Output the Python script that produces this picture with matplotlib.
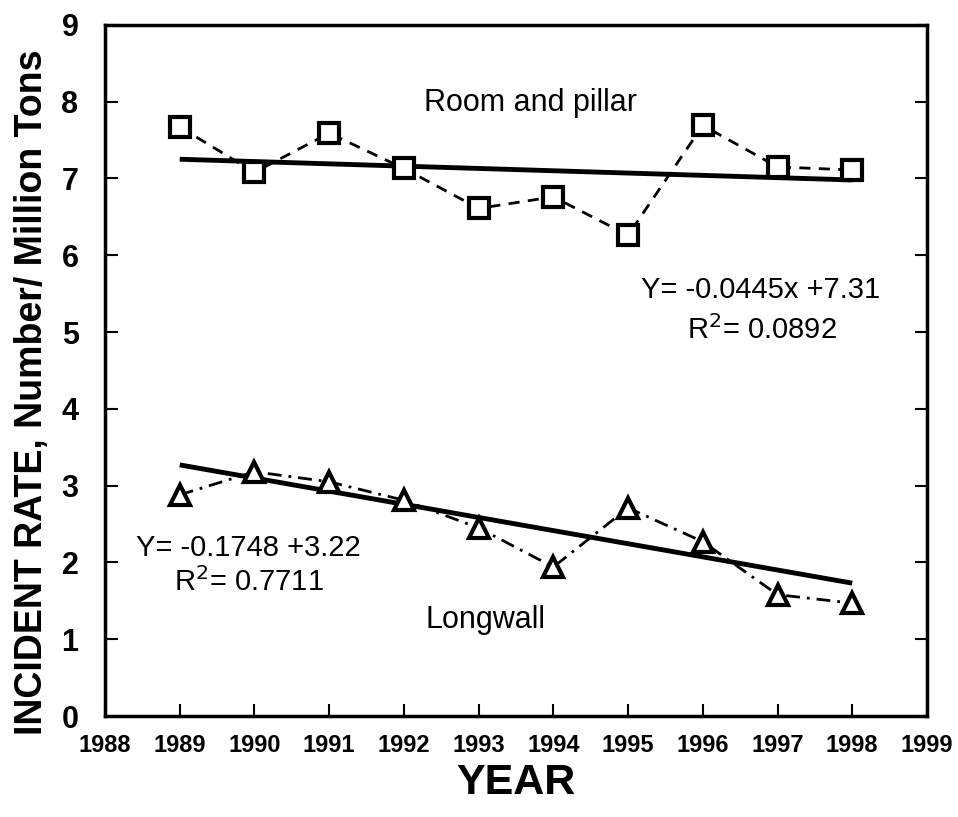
import numpy as np
import matplotlib
matplotlib.use("Agg")
import matplotlib.pyplot as plt

# data
years = [1989, 1990, 1991, 1992, 1993, 1994, 1995, 1996, 1997, 1998]
room_pillar = [7.67, 7.08, 7.59, 7.13, 6.61, 6.76, 6.26, 7.69, 7.15, 7.11]
longwall = [2.88, 3.18, 3.05, 2.81, 2.45, 1.94, 2.71, 2.27, 1.58, 1.47]
trend_years = [1989, 1998]
trend_rp = [7.25, 6.98]
trend_lw = [3.27, 1.73]
xticks = list(range(1988, 2000))
yticks = list(range(0, 10))

plt.rcParams['font.family'] = ['Liberation Sans', 'DejaVu Sans']

fig = plt.figure(figsize=(9.58, 8.17), dpi=100)
ax = fig.add_axes([0.1096, 0.1236, 0.858, 0.846])

# trend lines
ax.plot(trend_years, trend_rp, color='black', linewidth=3.5, solid_capstyle='butt')
ax.plot(trend_years, trend_lw, color='black', linewidth=3.5, solid_capstyle='butt')

# data series
ax.plot(years, room_pillar, linestyle=(0, (4, 3)), color='black', linewidth=2,
        marker='s', markersize=14, markerfacecolor='white', markeredgecolor='black',
        markeredgewidth=3)
ax.plot(years, longwall, linestyle=(0, (5, 2.5, 1, 2.5)), color='black', linewidth=2,
        marker='^', markersize=15, markerfacecolor='white', markeredgecolor='black',
        markeredgewidth=3)

# annotations
ax.text(1993.69, 7.98, 'Room and pillar', fontsize=22, ha='center', va='center')
ax.text(1996.77, 5.55, 'Y= -0.0445x +7.31', fontsize=21, ha='center', va='center')
ax.text(1996.79, 5.03, 'R$^{2}$= 0.0892', fontsize=21, ha='center', va='center')
ax.text(1989.92, 2.19, 'Y= -0.1748 +3.22', fontsize=21, ha='center', va='center')
ax.text(1989.92, 1.74, 'R$^{2}$= 0.7711', fontsize=21, ha='center', va='center')
ax.text(1993.09, 1.25, 'Longwall', fontsize=22, ha='center', va='center')

ax.set_xlim(1988, 1999)
ax.set_ylim(0, 9)
ax.set_xticks(xticks)
ax.set_yticks(yticks)
ax.set_xticklabels([str(t) for t in xticks], fontweight='bold', fontsize=17)
ax.set_yticklabels([str(t) for t in yticks], fontweight='bold', fontsize=22)
ax.tick_params(axis='x', direction='in', length=9, width=1.5, pad=13)
ax.tick_params(axis='y', direction='in', length=9, width=1.5, pad=19, right=True)

for s in ax.spines.values():
    s.set_linewidth(2.5)

ax.set_xlabel('YEAR', fontweight='bold', fontsize=31, labelpad=4)
ax.set_ylabel('INCIDENT RATE, Number/ Million Tons', fontweight='bold', fontsize=27)
ax.yaxis.set_label_coords(-0.067, 0.469)

fig.savefig('out.png', dpi=100)
